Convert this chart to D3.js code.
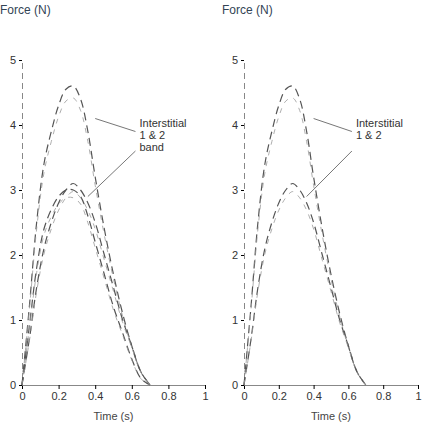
<!DOCTYPE html><html><head><meta charset="utf-8">
<script src="https://cdn.jsdelivr.net/npm/d3@7"></script>
<style>body{margin:0;background:#fff}text{font-family:"Liberation Sans",Arial,sans-serif}</style></head><body>
<svg id="c" width="425" height="425"></svg>
<script>
const time=[0,0.04,0.08,0.12,0.16,0.2,0.24,0.28,0.32,0.36,0.4,0.45,0.5,0.55,0.6,0.65,0.7];
const seriesA=[0,1.2,2.5,3.4,3.9,4.3,4.55,4.6,4.4,3.9,3.2,2.4,1.7,1.1,0.6,0.2,0];
const seriesB=[0,0.9,1.8,2.4,2.7,2.9,3.0,3.0,2.9,2.6,2.2,1.7,1.2,0.8,0.4,0.1,0];
const seriesC=[0,0.7,1.5,2.1,2.5,2.8,3.0,3.1,3.0,2.8,2.5,2.0,1.5,1.0,0.6,0.2,0];
const yTicks=[0,1,2,3,4,5];
const xTicks=[0,0.2,0.4,0.6,0.8,1.0];
const svg=d3.select("#c");
const panels=[{x0:22,x1:205,title:"Force (N)",series:[seriesA,seriesB,seriesC],ann:["Interstitial","1 & 2","band"]},
{x0:244,x1:418,title:"Force (N)",series:[seriesA,seriesC],ann:["Interstitial","1 & 2"]}];
panels.forEach(p=>{
 const x=d3.scaleLinear().domain([0,1]).range([p.x0,p.x1]);
 const y=d3.scaleLinear().domain([0,5]).range([385,60]);
 const g=svg.append("g");
 g.append("g").attr("transform","translate(0,385)").call(d3.axisBottom(x).tickValues(xTicks).tickFormat(d3.format("~g")).tickSize(4)).call(a=>a.selectAll("text").attr("font-size",11).attr("fill","#333")).call(a=>a.select(".domain").attr("stroke","#888"));
 g.append("g").attr("transform",`translate(${p.x0},0)`).call(d3.axisLeft(y).tickValues(yTicks).tickFormat(d3.format("d")).tickSize(3)).call(a=>a.selectAll("text").attr("font-size",11).attr("fill","#333")).call(a=>a.select(".domain").attr("stroke","#888").attr("stroke-dasharray","6,4"));
 const line=d3.line().x((d,i)=>x(time[i])).y(d=>y(d)).curve(d3.curveCatmullRom);
 p.series.forEach((s,k)=>{
  g.append("path").attr("d",line(s)).attr("fill","none").attr("stroke","#555").attr("stroke-width",1.2).attr("stroke-dasharray","8,5");
  g.append("path").attr("d",line(s.map(v=>v*0.96))).attr("fill","none").attr("stroke","#999").attr("stroke-width",0.8).attr("stroke-dasharray","5,6");
 });
 const ax=x(0.62), ay=y(3.9);
 g.append("line").attr("x1",x(0.4)).attr("y1",y(4.1)).attr("x2",ax).attr("y2",ay).attr("stroke","#777");
 g.append("line").attr("x1",x(0.36)).attr("y1",y(2.9)).attr("x2",ax).attr("y2",y(3.6)).attr("stroke","#777");
 p.ann.forEach((t,i)=>g.append("text").attr("x",ax+4).attr("y",ay-5+i*12).attr("font-size",11).attr("fill","#333").text(t));
 g.append("text").attr("x",p.x0-22).attr("y",14).attr("font-size",12).attr("fill","#345").text(p.title);
 g.append("text").attr("x",(p.x0+p.x1)/2).attr("y",420).attr("text-anchor","middle").attr("font-size",11).attr("fill","#444").text("Time (s)");
});
</script></body></html>
